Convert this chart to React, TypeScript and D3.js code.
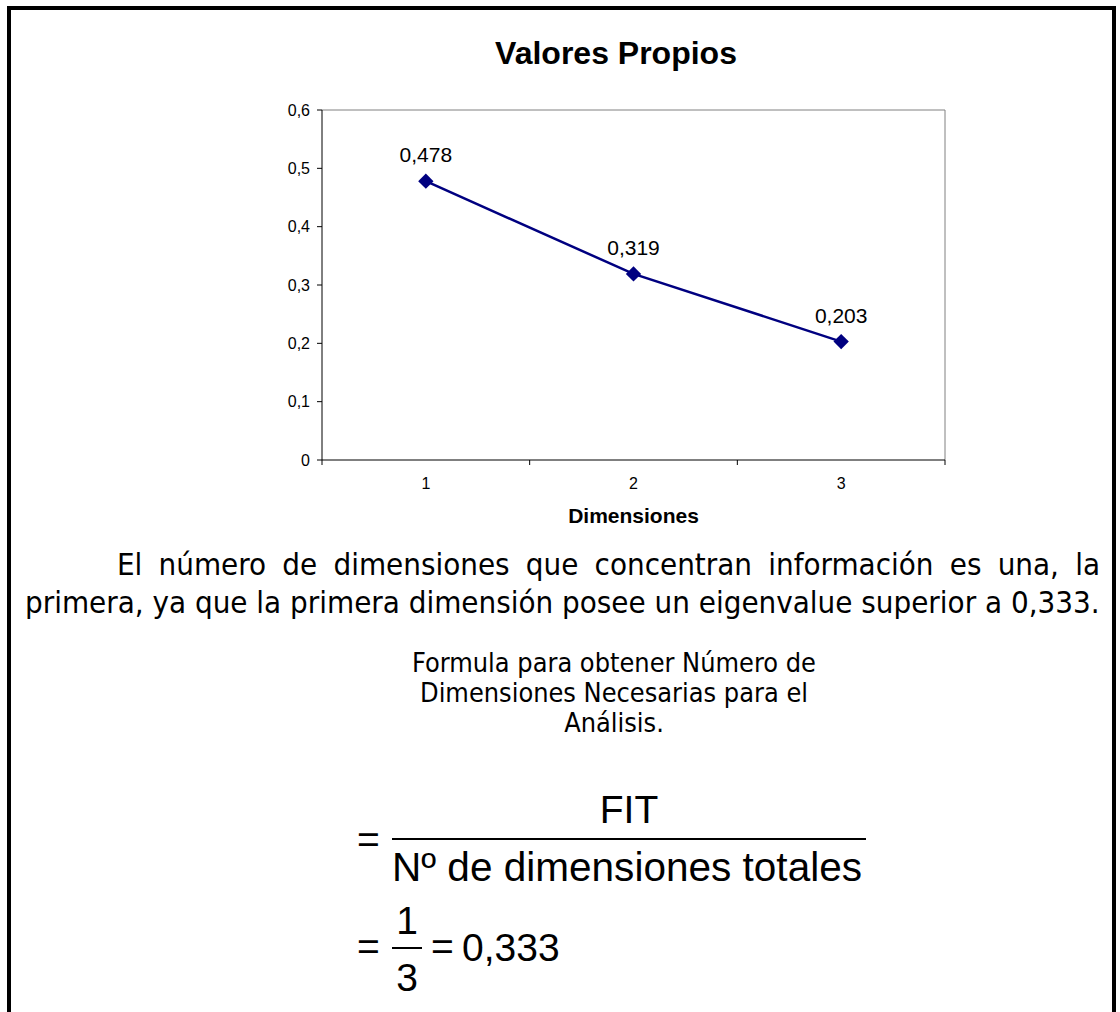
import React, { useEffect, useRef } from "react";
import * as d3 from "d3";

// Eigenvalues per dimension
const dimensions = ["1", "2", "3"];
const eigenvalues = [0.478, 0.319, 0.203];
const yTickValues = [0, 0.1, 0.2, 0.3, 0.4, 0.5, 0.6];

const chartTitle = "Valores Propios";
const xAxisTitle = "Dimensiones";

const paragraphLines = [
  "El número de dimensiones que concentran información es una, la",
  "primera, ya que la primera dimensión posee un eigenvalue superior a 0,333.",
];
const captionLines = [
  "Formula para obtener Número de",
  "Dimensiones Necesarias para el",
  "Análisis.",
];
const fitNumerator = "FIT";
const fitDenominator = "Nº de dimensiones totales";
const ratioNumerator = "1";
const ratioDenominator = "3";
const ratioResult = "0,333";

const W = 1120;
const H = 1012;
const chartFont = "'Liberation Sans', Arial, sans-serif";
const bodyFont = "'DejaVu Sans Condensed', 'DejaVu Sans', sans-serif";

export default function App() {
  const ref = useRef<SVGSVGElement>(null);

  useEffect(() => {
    const svg = d3.select(ref.current);
    svg.selectAll("*").remove();

    const locale = d3.formatLocale({
      decimal: ",",
      thousands: ".",
      grouping: [3],
      currency: ["", ""],
    });
    const fmtTick = (v: number) => (v === 0 ? "0" : locale.format(".1f")(v));
    const fmtVal = locale.format(".3f");

    // page frame
    svg
      .append("path")
      .attr("d", `M9,${H} V8 H1114 V${H}`)
      .attr("fill", "none")
      .attr("stroke", "#000")
      .attr("stroke-width", 4);

    // ---- chart ----
    const x = d3.scaleBand<string>().domain(dimensions).range([322, 945]);
    const y = d3.scaleLinear().domain([0, 0.6]).range([460, 110]);
    const [x0, x1] = x.range();
    const [y0, y1] = y.range();

    const chart = svg.append("g").attr("font-family", chartFont);

    chart
      .append("text")
      .attr("x", 616)
      .attr("y", 64)
      .attr("text-anchor", "middle")
      .attr("font-size", 32)
      .attr("font-weight", "bold")
      .text(chartTitle);

    // plot frame (top/right grey)
    chart
      .append("path")
      .attr("d", `M${x0},${y1} H${x1} V${y0}`)
      .attr("fill", "none")
      .attr("stroke", "#808080")
      .attr("stroke-width", 1);

    // y axis
    const yAxis = chart.append("g");
    yAxis
      .append("line")
      .attr("x1", x0)
      .attr("x2", x0)
      .attr("y1", y1)
      .attr("y2", y0)
      .attr("stroke", "#000");
    yTickValues.forEach((v) => {
      yAxis
        .append("line")
        .attr("x1", x0 - 5)
        .attr("x2", x0)
        .attr("y1", y(v))
        .attr("y2", y(v))
        .attr("stroke", "#000");
      yAxis
        .append("text")
        .attr("x", x0 - 12)
        .attr("y", y(v))
        .attr("dy", "0.36em")
        .attr("text-anchor", "end")
        .attr("font-size", 16)
        .text(fmtTick(v));
    });

    // x axis
    const xAxis = chart.append("g");
    xAxis
      .append("line")
      .attr("x1", x0)
      .attr("x2", x1)
      .attr("y1", y0)
      .attr("y2", y0)
      .attr("stroke", "#000");
    const boundaries = [...dimensions.map((d) => x(d) as number), x1];
    boundaries.forEach((bx) => {
      xAxis
        .append("line")
        .attr("x1", bx)
        .attr("x2", bx)
        .attr("y1", y0)
        .attr("y2", y0 + 5)
        .attr("stroke", "#000");
    });
    dimensions.forEach((d) => {
      xAxis
        .append("text")
        .attr("x", (x(d) as number) + x.bandwidth() / 2)
        .attr("y", 489)
        .attr("text-anchor", "middle")
        .attr("font-size", 16)
        .text(d);
    });
    xAxis
      .append("text")
      .attr("x", (x0 + x1) / 2)
      .attr("y", 523)
      .attr("text-anchor", "middle")
      .attr("font-size", 21)
      .attr("font-weight", "bold")
      .text(xAxisTitle);

    // series
    const pts = dimensions.map((d, i) => ({
      cx: (x(d) as number) + x.bandwidth() / 2,
      cy: y(eigenvalues[i]),
      v: eigenvalues[i],
    }));
    const line = d3
      .line<{ cx: number; cy: number }>()
      .x((p) => p.cx)
      .y((p) => p.cy);
    chart
      .append("path")
      .attr("d", line(pts))
      .attr("fill", "none")
      .attr("stroke", "#000080")
      .attr("stroke-width", 2.5);
    const diamond = d3.symbol().type(d3.symbolDiamond2).size(150);
    chart
      .selectAll("path.marker")
      .data(pts)
      .join("path")
      .attr("class", "marker")
      .attr("d", diamond)
      .attr("transform", (p) => `translate(${p.cx},${p.cy})`)
      .attr("fill", "#000080");
    chart
      .selectAll("text.value")
      .data(pts)
      .join("text")
      .attr("class", "value")
      .attr("x", (p) => p.cx)
      .attr("y", (p) => p.cy - 19)
      .attr("text-anchor", "middle")
      .attr("font-size", 21)
      .text((p) => fmtVal(p.v));

    // ---- paragraph ----
    const measure = (s: string, size: number, family: string) => {
      const t = svg
        .append("text")
        .attr("font-family", family)
        .attr("font-size", size)
        .text(s);
      const w = (t.node() as SVGTextElement).getComputedTextLength();
      t.remove();
      return w;
    };
    const pSize = (100 * 1075) / measure(paragraphLines[1], 100, bodyFont);
    const line1Natural = measure(paragraphLines[0], pSize, bodyFont);
    const gaps = paragraphLines[0].split(" ").length - 1;
    const wordSpacing = (1100 - 117 - line1Natural) / gaps;
    svg
      .append("text")
      .attr("x", 117)
      .attr("y", 575)
      .attr("font-family", bodyFont)
      .attr("font-size", pSize)
      .attr("word-spacing", wordSpacing)
      .text(paragraphLines[0]);
    svg
      .append("text")
      .attr("x", 25)
      .attr("y", 613)
      .attr("font-family", bodyFont)
      .attr("font-size", pSize)
      .text(paragraphLines[1]);

    // caption
    const cSize = (100 * 404) / measure(captionLines[0], 100, bodyFont);
    [672, 702, 732].forEach((by, i) => {
      svg
        .append("text")
        .attr("x", 614)
        .attr("y", by)
        .attr("text-anchor", "middle")
        .attr("font-family", bodyFont)
        .attr("font-size", cSize)
        .text(captionLines[i]);
    });

    // ---- formula ----
    const f = svg.append("g").attr("font-family", chartFont).attr("font-size", 39);
    f.append("text").attr("x", 357).attr("y", 853).text("=");
    f.append("text").attr("x", 629).attr("y", 823).attr("text-anchor", "middle").text(fitNumerator);
    f.append("line")
      .attr("x1", 392).attr("x2", 866).attr("y1", 839).attr("y2", 839)
      .attr("stroke", "#000").attr("stroke-width", 2);
    f.append("text")
      .attr("x", 392).attr("y", 881)
      .attr("font-size", 41)
      .attr("textLength", 470).attr("lengthAdjust", "spacingAndGlyphs")
      .text(fitDenominator);

    f.append("text").attr("x", 357).attr("y", 960).text("=");
    f.append("text").attr("x", 407).attr("y", 934).attr("text-anchor", "middle").text(ratioNumerator);
    f.append("line")
      .attr("x1", 392).attr("x2", 422).attr("y1", 948).attr("y2", 948)
      .attr("stroke", "#000").attr("stroke-width", 2);
    f.append("text").attr("x", 407).attr("y", 991).attr("text-anchor", "middle").text(ratioDenominator);
    f.append("text").attr("x", 431).attr("y", 960).text("=");
    f.append("text").attr("x", 462).attr("y", 961).text(ratioResult);
  }, []);

  return (
    <svg
      ref={ref}
      width={W}
      height={H}
      style={{ position: "absolute", left: 0, top: 0, background: "#fff" }}
    />
  );
}
